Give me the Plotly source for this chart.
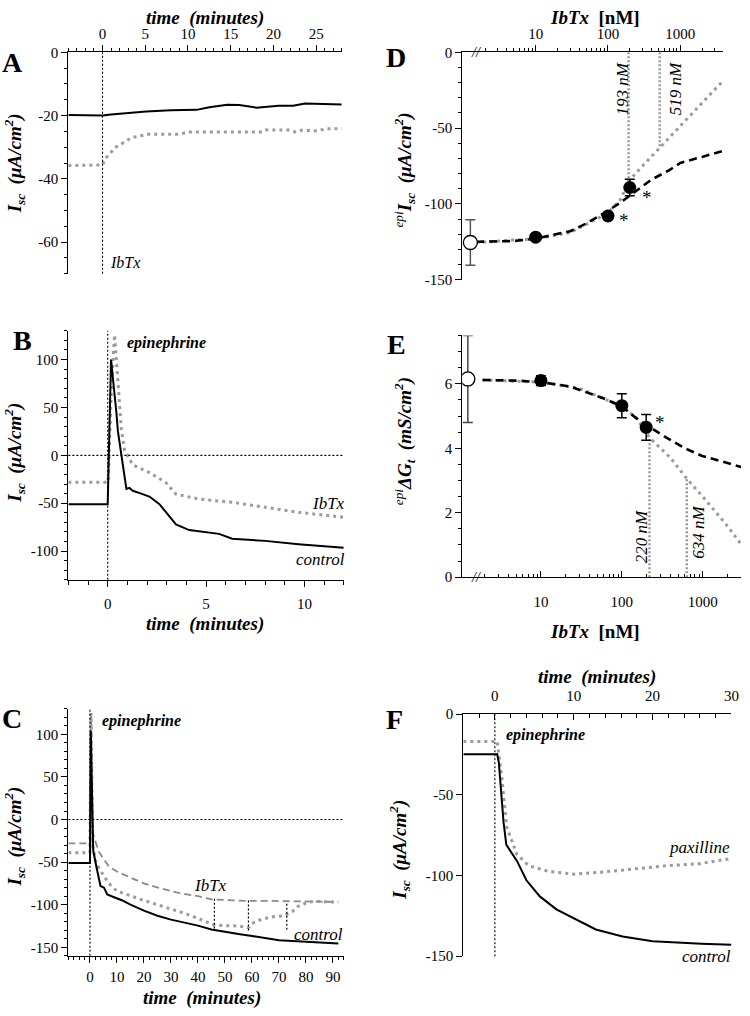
import math
import plotly.graph_objects as go

FONT = "'Liberation Serif', 'Times New Roman', 'DejaVu Serif', serif"
GRAY = "#9b9b9b"
DOT = "3px,4px"

# ---------------- Panel A ----------------
a_ctrl_t = [-4, -2, 0, 1, 3, 5.1, 8, 10, 11, 12.5, 14.6, 16, 18, 20.6, 22.3, 23.7, 26, 28]
a_ctrl_y = [-19.8, -19.8, -20.0, -19.7, -19.1, -18.7, -18.3, -18.1, -18.2, -17.4, -16.6, -16.7, -17.5, -16.9, -16.9, -16.2, -16.3, -16.5]
a_ibtx_t = [-4, 0, 0.3, 1.5, 3.4, 5.3, 9.1, 9.9, 18.7, 19.1, 21.8, 22.6, 23.4, 25.2, 26, 28]
a_ibtx_y = [-35.8, -35.6, -33.7, -30.1, -27, -25.9, -25.9, -25.2, -25.2, -24.6, -24.6, -25.2, -24.6, -24.9, -24.2, -24.2]
a_xticks = [0, 5, 10, 15, 20, 25]
a_yticks = [0, -20, -40, -60]

# ---------------- Panel B ----------------
b_ctrl_t = [-2, 0, 0.17, 0.3, 0.44, 0.52, 0.95, 1.1, 1.28, 1.7, 2.12, 2.63, 3.13, 3.47, 4.14, 5.0, 5.66, 6.33, 8.0, 9.7, 12]
b_ctrl_y = [-51, -51, 100, 75, 45, 25, -35, -34, -37, -40, -43, -51, -64, -72, -78, -80, -82, -87, -89.3, -92.8, -96.6]
b_ibtx_t = [-2, 0.02, 0.1, 0.2, 0.35, 0.52, 0.69, 0.86, 1.28, 2.12, 2.96, 3.47, 4.65, 6.33, 8.0, 9.7, 12]
b_ibtx_y = [-28, -28, 20, 75, 126, 73, 28, 5, -10, -18, -28.5, -40.5, -45.7, -49, -54.3, -59.5, -64.6]
b_xticks = [0, 5, 10]
b_yticks = [100, 50, 0, -50, -100]

# ---------------- Panel C ----------------
c_ctrl_t = [-8, 0, 0.3, 0.8, 1.2, 2.1, 3.9, 5.2, 6.4, 8, 12, 15, 20, 25, 30, 35, 40, 45, 50, 55, 60, 65, 70, 75, 80, 85, 92]
c_ctrl_y = [-51, -51, 104, 20, -36, -51, -78, -80, -88, -90, -95, -100, -107, -113, -117.5, -121, -124.5, -129, -132, -134.5, -136.7, -139.5, -141.7, -142.5, -143.5, -144.5, -145.6]
c_ibtx_t = [-8, 0, 0.4, 0.7, 1.0, 2.1, 3.3, 7, 10, 15.6, 20, 24.2, 32.8, 40, 45.1, 50, 58.7, 65, 72.2, 80, 85, 91.9]
c_ibtx_y = [-28, -28, 122, 50, -15, -26.5, -38, -55, -61, -69, -75, -79, -86, -90, -93.7, -94.5, -95.6, -95.5, -95.6, -96, -96.3, -96.7]
c_dot_t = [-8, 0, 0.4, 0.7, 1.0, 2, 3, 4.5, 7, 10, 15, 19, 25, 30, 35, 40, 46, 50, 55, 58.7, 60, 63.6, 68, 72, 75, 77, 80, 83, 88, 92]
c_dot_y = [-39, -39, 125, 40, -30, -48, -55, -63, -75, -84, -90, -94, -100, -105, -110, -116, -124, -124.5, -125, -127, -122, -117, -114, -113, -108, -102, -98, -96, -96.5, -97]
c_mark_t = [46.1, 58.7, 72.9]
c_mark_top = [-93, -95, -99]
c_mark_bot = [-128, -132, -131]
c_xticks = [0, 10, 20, 30, 40, 50, 60, 70, 80, 90]
c_yticks = [100, 50, 0, -50, -100, -150]

# ---------------- Panel D ----------------
d_ctrl_x = [1.25]
d_ctrl_y = [-125.5]
d_ctrl_err = [15]
d_conc = [10, 100, 200]
d_mean = [-122, -108, -89.2]
d_err = [1.5, 2, 5.5]
d_fit_x = [1.5, 5, 10, 30, 50, 84, 100, 150, 241, 400, 690, 1000, 2000, 3900]
d_fit_y = [-125, -124.5, -123, -118, -113, -107, -104.5, -99, -92, -84, -78, -73, -69, -65]
d_lin_x = [1.5, 10, 30, 100, 150, 193, 300, 519, 1000, 2000, 3900]
d_lin_y = [-125.5, -123, -119, -106, -97, -85, -75, -63, -48.5, -33.5, -18.8]
d_ic = [193, 519]
d_ic_y = [-85, -63]
d_ic_text = ["193 nM", "519 nM"]

# ---------------- Panel E ----------------
e_ctrl_x = [1.25]
e_ctrl_y = [6.15]
e_ctrl_err = [1.35]
e_conc = [10, 100, 200]
e_mean = [6.1, 5.32, 4.65]
e_err = [0.15, 0.37, 0.4]
e_fit_x = [1.9, 5, 10, 22.6, 58, 100, 148, 200, 378, 600, 966, 2000, 2985]
e_fit_y = [6.12, 6.1, 6.05, 5.92, 5.56, 5.3, 4.95, 4.72, 4.29, 4.0, 3.77, 3.55, 3.42]
e_lin_x = [1.9, 10, 30, 100, 150, 220, 400, 634, 1000, 2000, 2985]
e_lin_y = [6.12, 6.05, 5.86, 5.3, 4.95, 4.33, 3.7, 3.06, 2.5, 1.6, 1.02]
e_ic = [220, 634]
e_ic_y = [4.33, 3.06]
e_ic_text = ["220 nM", "634 nM"]

log_ticks = [10, 100, 1000]
log_minor = [2, 3, 4, 5, 6, 7, 8, 9, 20, 30, 40, 50, 60, 70, 80, 90,
             200, 300, 400, 500, 600, 700, 800, 900, 2000, 3000]

# ---------------- Panel F ----------------
f_ctrl_t = [-4, 0.3, 0.5, 1.1, 1.45, 2.8, 4, 5.7, 7.8, 10.3, 12.8, 16.2, 20, 26.2, 30]
f_ctrl_y = [-25, -25, -30, -67, -81, -91, -103, -113, -121, -127, -133.5, -137.8, -140.8, -142.3, -143]
f_pax_t = [-4, 0.3, 0.9, 1.5, 2.8, 4.3, 6.9, 10, 13.5, 17.7, 21.8, 26, 29.3, 30]
f_pax_y = [-17, -17, -40, -70, -87, -94, -97.6, -99.2, -98, -96, -94, -92.7, -90, -89.5]
f_xticks = [0, 10, 20, 30]
f_yticks = [0, -50, -100, -150]


def frange(a, b, s):
    out, v = [], a
    while v <= b + 1e-9:
        out.append(round(v, 6))
        v += s
    return out


def lab(vals):
    return [str(v) for v in vals]


def xn(n):
    return "x" if n == 1 else f"x{n}"


def yn(n):
    return "y" if n == 1 else f"y{n}"


fig = go.Figure()


def line(x, y, n, color="black", width=2, dash="solid"):
    fig.add_trace(go.Scatter(x=x, y=y, mode="lines", xaxis=xn(n), yaxis=yn(n),
                             line=dict(color=color, width=width, dash=dash),
                             showlegend=False, hoverinfo="skip"))


# A
line(a_ibtx_t, a_ibtx_y, 1, GRAY, 3, DOT)
line(a_ctrl_t, a_ctrl_y, 1, "black", 2)
# B
line(b_ibtx_t, b_ibtx_y, 2, GRAY, 3, DOT)
line(b_ctrl_t, b_ctrl_y, 2, "black", 2)
# C
line(c_ibtx_t, c_ibtx_y, 3, "#8a8a8a", 1.8, "7px,4px")
line(c_dot_t, c_dot_y, 3, GRAY, 3, DOT)
line(c_ctrl_t, c_ctrl_y, 3, "black", 2)
for t, y0, y1 in zip(c_mark_t, c_mark_top, c_mark_bot):
    line([t, t], [y0, y1], 3, "black", 1.2, "2px,2px")
# D
for xv, yv in zip(d_ic, d_ic_y):
    line([xv, xv], [0, yv], 4, GRAY, 2.5, "2px,2px")
line(d_lin_x, d_lin_y, 4, GRAY, 3, DOT)
line(d_fit_x, d_fit_y, 4, "black", 2.6, "8px,5px")
fig.add_trace(go.Scatter(x=d_ctrl_x, y=d_ctrl_y, mode="markers", xaxis="x4", yaxis="y4",
                         marker=dict(size=14, color="white", line=dict(color="black", width=1.3)),
                         error_y=dict(type="data", array=d_ctrl_err, color="#555", thickness=1.5, width=5),
                         showlegend=False, hoverinfo="skip"))
fig.add_trace(go.Scatter(x=d_conc, y=d_mean, mode="markers", xaxis="x4", yaxis="y4",
                         marker=dict(size=13, color="black"),
                         error_y=dict(type="data", array=d_err, color="black", thickness=1.5, width=5),
                         showlegend=False, hoverinfo="skip"))
# E
for xv, yv in zip(e_ic, e_ic_y):
    line([xv, xv], [0, yv], 5, GRAY, 2.5, "2px,2px")
line(e_lin_x, e_lin_y, 5, GRAY, 3, DOT)
line(e_fit_x, e_fit_y, 5, "black", 2.6, "8px,5px")
fig.add_trace(go.Scatter(x=e_ctrl_x, y=e_ctrl_y, mode="markers", xaxis="x5", yaxis="y5",
                         marker=dict(size=14, color="white", line=dict(color="black", width=1.3)),
                         error_y=dict(type="data", array=e_ctrl_err, color="#444", thickness=1.5, width=5),
                         showlegend=False, hoverinfo="skip"))
fig.add_trace(go.Scatter(x=e_conc, y=e_mean, mode="markers", xaxis="x5", yaxis="y5",
                         marker=dict(size=13, color="black"),
                         error_y=dict(type="data", array=e_err, color="black", thickness=1.5, width=5),
                         showlegend=False, hoverinfo="skip"))
# F
line(f_pax_t, f_pax_y, 6, GRAY, 3, DOT)
line(f_ctrl_t, f_ctrl_y, 6, "black", 2)


def W(px):
    return px / 750


def H(py):
    return 1 - py / 1016


def ax(domain, rng, tickvals, minorvals, ticks="outside", **kw):
    d = dict(domain=domain, range=rng, showgrid=False, zeroline=False, showline=True,
             linecolor="black", linewidth=1.3, ticks=ticks, ticklen=6, tickwidth=1.2,
             tickcolor="black", tickmode="array", tickvals=tickvals,
             ticktext=kw.pop("ticktext", lab(tickvals)),
             tickfont=dict(family=FONT, size=15, color="black"))
    if minorvals:
        d["minor"] = dict(tickmode="array", tickvals=minorvals, ticks=ticks, ticklen=3.5,
                          tickwidth=1, tickcolor="black")
    d.update(kw)
    return d


layout = dict(
    width=750, height=1016, margin=dict(l=0, r=0, t=0, b=0),
    paper_bgcolor="white", plot_bgcolor="white", showlegend=False,
    font=dict(family=FONT, size=15, color="black"),
    # A
    xaxis=ax([W(69), W(345)], [-4, 28], a_xticks, frange(-4, 28, 1), side="top", anchor="y"),
    yaxis=ax([H(270), H(45)], [-70, 0], a_yticks, frange(-70, 0, 5), anchor="x"),
    # B
    xaxis2=ax([W(69), W(347)], [-2, 12], b_xticks, frange(-2, 12, 1), anchor="y2", ticklabelstandoff=4),
    yaxis2=ax([H(581), H(328)], [-130, 130], b_yticks, frange(-130, 130, 10), anchor="x2"),
    # C
    xaxis3=ax([W(69), W(347)], [-8, 94], c_xticks, frange(-8, 94, 2), anchor="y3", ticklabelstandoff=1),
    yaxis3=ax([H(963), H(712)], [-160, 130], c_yticks, frange(-160, 130, 10), anchor="x3"),
    # D
    xaxis4=ax([W(466.7), W(730)], [-0.014, 3.593], log_ticks, log_minor, type="log", side="top", anchor="y4"),
    yaxis4=ax([H(276), H(45)], [-150, 0], [0, -50, -100, -150], frange(-150, 0, 10), anchor="x4"),
    # E
    xaxis5=ax([W(466.7), W(748)], [0.029, 3.473], log_ticks, log_minor, ticks="inside", type="log",
              anchor="y5", ticklabelstandoff=11),
    yaxis5=ax([H(578.3), H(332.7)], [0, 7.5], [0, 2, 4, 6], frange(0, 7.5, 0.5), anchor="x5"),
    # F
    xaxis6=ax([W(467.7), W(738.3)], [-4, 30], f_xticks, frange(-4, 30, 2), ticks="inside", side="top",
              anchor="y6", ticklabelstandoff=6),
    yaxis6=ax([H(963.3), H(717.3)], [-150, 0], f_yticks, None, anchor="x6"),
)
fig.update_layout(**layout)

# reference lines
shapes = []
for n in [1, 2, 3, 6]:
    shapes.append(dict(type="line", xref=xn(n), yref=yn(n) + " domain", x0=0, x1=0, y0=0, y1=1,
                       line=dict(color="black", width=1.1, dash="2px,2px")))
for n in [2, 3]:
    shapes.append(dict(type="line", xref=xn(n) + " domain", yref=yn(n), x0=0, x1=1, y0=0, y1=0,
                       line=dict(color="black", width=1.1, dash="2px,2px")))
fig.update_layout(shapes=shapes)

ann = []


def txt(text, x, y, xref="paper", yref="paper", size=15, angle=0, xanchor="center", color="black"):
    ann.append(dict(text=text, x=x, y=y, xref=xref, yref=yref, showarrow=False, textangle=angle,
                    xanchor=xanchor, yanchor="middle", font=dict(family=FONT, size=size, color=color)))


# panel letters
for letter, px, py in [("A", 12.5, 55), ("B", 23, 338), ("C", 12, 722),
                       ("D", 400, 50), ("E", 400, 342), ("F", 398, 723)]:
    txt(f"<b>{letter}</b>", W(px), H(py), size=28)

TIME = "<b><i>time  (minutes)</i></b>"
txt(TIME, W(207), H(10), size=19)
txt(TIME, W(207), H(626), size=19)
txt(TIME, W(204), H(1006), size=19)
txt(TIME, W(603), H(680), size=19)
IBTX = "<b><i>IbTx</i>  [nM]</b>"
txt(IBTX, W(601), H(10), size=19)
txt(IBTX, W(601), H(633), size=19)

ISC = "<b><i>I</i></b><sub><b><i>sc</i></b></sub><b><i>  (μA/cm<sup>2</sup>)</i></b>"
txt(ISC, W(15), H(158), size=19, angle=-90)
txt(ISC, W(15), H(452), size=19, angle=-90)
txt(ISC, W(15), H(842), size=19, angle=-90)
txt(ISC, W(403), H(855), size=19, angle=-90)
txt("<sup><i>epi</i></sup>" + ISC, W(408), H(165), size=19, angle=-90)
txt("<sup><i>epi</i></sup><b><i>ΔG</i></b><sub><b><i>t</i></b></sub><b><i>  (mS/cm<sup>2</sup>)</i></b>",
    W(408), H(440), size=19, angle=-90)

# in-panel labels
txt("<i>IbTx</i>", 2.6, -66.4, "x", "y", size=16)
txt("<b><i>epinephrine</i></b>", 3.0, 117, "x2", "y2", size=16)
txt("<i>IbTx</i>", 11.2, -50, "x2", "y2", size=17)
txt("<i>control</i>", 10.8, -108.6, "x2", "y2", size=17)
txt("<b><i>epinephrine</i></b>", 19, 115.5, "x3", "y3", size=16)
txt("<i>IbTx</i>", 44.5, -78, "x3", "y3", size=17)
txt("<i>control</i>", 84.5, -135, "x3", "y3", size=17)
txt("<b><i>epinephrine</i></b>", 6.4, -12.8, "x6", "y6", size=16)
txt("<i>paxilline</i>", 26, -83, "x6", "y6", size=17)
txt("<i>control</i>", 26.9, -150, "x6", "y6", size=17)

# D / E labels (log axes: annotation x given in log10 units)
txt("<i>%s</i>" % d_ic_text[0], math.log10(160), -24, "x4", "y4", size=17, angle=-90)
txt("<i>%s</i>" % d_ic_text[1], math.log10(860), -24, "x4", "y4", size=17, angle=-90)
txt("*", math.log10(167), -111, "x4", "y4", size=19)
txt("*", math.log10(345), -96, "x4", "y4", size=19)
txt("<i>%s</i>" % e_ic_text[0], math.log10(172), 1.27, "x5", "y5", size=17, angle=-90)
txt("<i>%s</i>" % e_ic_text[1], math.log10(880), 1.39, "x5", "y5", size=17, angle=-90)
txt("*", math.log10(300), 4.8, "x5", "y5", size=19)
# axis break marks
txt("<i>//</i>", W(480), H(45), size=14)
txt("<i>//</i>", W(480), H(578.3), size=14)

fig.update_layout(annotations=ann)
fig.write_html("out.html", config={"displayModeBar": False},
               post_script="document.body.style.margin='0';")
